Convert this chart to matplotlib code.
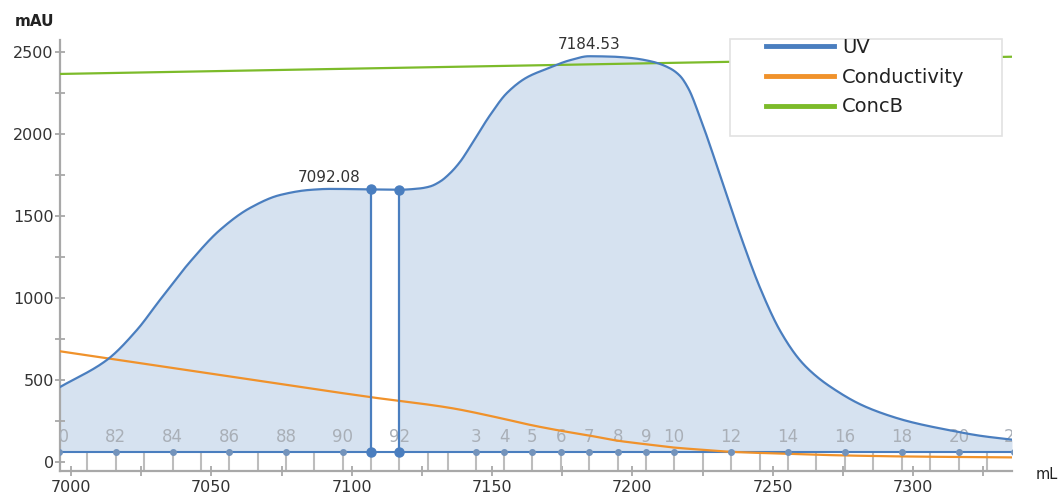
import numpy as np
import matplotlib
matplotlib.use("Agg")
import matplotlib.pyplot as plt
from matplotlib.lines import Line2D
from matplotlib.patches import Rectangle

plt.rcParams['font.family'] = ['DejaVu Sans']

# UV trace (mL, mAU)
uv_ml = [6996.1, 7012.8, 7023.5, 7031.7, 7042.4, 7053.1, 7063.8, 7074.5, 7085.1,
         7092.08, 7099.4, 7106.9, 7116.9, 7124.3, 7127.9, 7131.5, 7135.0, 7138.6,
         7142.1, 7149.3, 7155.3, 7162.4, 7169.9, 7177.8, 7184.53, 7192.0, 7199.1,
         7207.3, 7213.4, 7216.9, 7220.0, 7224.1, 7231.2, 7238.3, 7245.5, 7252.6,
         7259.7, 7265.0, 7270.4, 7281.1, 7289.3, 7298.9, 7313.1, 7323.8, 7335.2]
uv_mau = [457, 622, 805, 988, 1220, 1415, 1549, 1628, 1659,
          1665, 1664, 1662, 1660, 1668, 1680, 1710, 1760, 1830,
          1920, 2115, 2250, 2345, 2400, 2450, 2474, 2472, 2464,
          2440, 2400, 2355, 2275, 2100, 1750, 1390, 1060, 800,
          620, 530, 460, 352, 295, 245, 193, 160, 136]

# Conductivity trace (scaled to the mAU axis)
cond_ml = [6996.1, 7060.2, 7106.9, 7135.0, 7152.8, 7163.9, 7174.6, 7185.0, 7193.9,
           7204.8, 7214.8, 7225.2, 7235.1, 7255.4, 7275.0, 7300.0, 7335.2]
cond_val = [675, 512, 395, 330, 268, 225, 190, 160, 132,
            108, 88, 74, 62, 50, 40, 33, 28]

# Concentration B trace (scaled to the mAU axis)
concb_ml = [6996.1, 7234.7, 7335.2]
concb_val = [2366, 2440, 2471]

# Fractions
frac_ml = [6995.7, 7005.7, 7016.0, 7026.0, 7036.3, 7046.3, 7056.3, 7066.6, 7076.6,
           7086.6, 7096.9, 7106.9, 7116.9, 7127.2, 7134.3, 7144.3, 7154.3, 7164.2,
           7174.6, 7184.5, 7194.9, 7204.8, 7214.8, 7225.2, 7235.1, 7245.5, 7255.4,
           7265.4, 7275.7, 7285.7, 7296.0, 7306.0, 7316.3, 7326.3, 7336.0]
frac_label = ["80", "", "82", "", "84", "", "86", "", "88",
              "", "90", "", "92", "", "", "3", "4", "5",
              "6", "7", "8", "9", "10", "", "12", "", "14",
              "", "16", "", "18", "", "20", "", "22"]
selected = ["91", "92"]          # collected fraction, drawn as the open gap
selected_ml = [7106.9, 7116.9]
frac_base = 62

peaks_ml = [7092.08, 7184.53]

UV_C = '#4a7ebf'
FILL_C = '#d6e2f0'
COND_C = '#f0922b'
CONC_C = '#7cbb2a'
AXIS_C = '#a8a8a8'
TXT_C = '#333333'
FRAC_TXT = '#a9afb7'


def pchip(x, y, xn):
    """Shape-preserving cubic through the points, used for a smooth trace."""
    x = np.asarray(x, float)
    y = np.asarray(y, float)
    h = np.diff(x)
    dl = np.diff(y) / h
    d = np.zeros_like(y)
    for k in range(1, len(x) - 1):
        if dl[k - 1] * dl[k] > 0:
            w1 = 2 * h[k] + h[k - 1]
            w2 = h[k] + 2 * h[k - 1]
            d[k] = (w1 + w2) / (w1 / dl[k - 1] + w2 / dl[k])
    d[0], d[-1] = dl[0], dl[-1]
    xn = np.asarray(xn, float)
    i = np.clip(np.searchsorted(x, xn) - 1, 0, len(x) - 2)
    t = (xn - x[i]) / h[i]
    h00 = 2 * t**3 - 3 * t**2 + 1
    h10 = t**3 - 2 * t**2 + t
    h01 = -2 * t**3 + 3 * t**2
    h11 = t**3 - t**2
    return h00 * y[i] + h10 * h[i] * d[i] + h01 * y[i + 1] + h11 * h[i] * d[i + 1]


fig = plt.figure(figsize=(10.6, 4.94), dpi=100)
ax = fig.add_axes([60 / 1060, 1 - 471 / 494, (1012 - 60) / 1060, (471 - 40) / 494])

x_lo, x_hi = 6996.1, 7335.2
ax.set_xlim(x_lo, x_hi)
ax.set_ylim(-55, 2573)

xs = np.linspace(uv_ml[0], uv_ml[-1], 1200)
xs = np.union1d(xs, selected_ml)
ys = pchip(uv_ml, uv_mau, xs)
cx = np.linspace(cond_ml[0], cond_ml[-1], 600)
cy = pchip(cond_ml, cond_val, cx)

# shaded area under UV, leaving the collected fraction open
left = xs <= selected_ml[0]
right = xs >= selected_ml[1]
ax.fill_between(xs[left], frac_base, ys[left], color=FILL_C, lw=0, zorder=1)
ax.fill_between(xs[right], frac_base, ys[right], color=FILL_C, lw=0, zorder=1)

# fraction marks
ax.vlines(frac_ml, -55, frac_base, colors='#bdbdbd', lw=1.5, zorder=2)
ax.axhline(frac_base, color=UV_C, lw=1.5, zorder=4)
for xm, lab in zip(frac_ml, frac_label):
    if lab:
        ax.text(xm, 152, lab, ha='center', va='center', fontsize=12,
                color=FRAC_TXT, zorder=3, clip_on=True)
        ax.plot([xm], [frac_base], 'o', ms=4, color='#7393bb', zorder=5)

ax.plot(cx, cy, color=COND_C, lw=1.6, zorder=4)
ax.plot(concb_ml, concb_val, color=CONC_C, lw=1.6, zorder=4)
ax.plot(xs, ys, color=UV_C, lw=1.6, zorder=5)

for xm in selected_ml:
    top = float(pchip(uv_ml, uv_mau, [xm])[0])
    ax.plot([xm, xm], [frac_base, top], color=UV_C, lw=1.6, zorder=6)
    ax.plot([xm, xm], [frac_base, top], 'o', ms=6.5, color=UV_C, zorder=7)

for pk in peaks_ml:
    ax.annotate(f"{pk:.2f}", (pk, float(pchip(uv_ml, uv_mau, [pk])[0])),
                xytext=(0, 3), textcoords='offset points', ha='center',
                va='bottom', fontsize=11, color=TXT_C, zorder=8)

# axes styling
for s in ['top', 'right']:
    ax.spines[s].set_visible(False)
for s in ['left', 'bottom']:
    ax.spines[s].set_color(AXIS_C)
    ax.spines[s].set_linewidth(1.6)

ax.set_yticks([0, 500, 1000, 1500, 2000, 2500])
ax.set_yticks(np.arange(250, 2500, 500), minor=True)
ax.set_xticks([7000, 7050, 7100, 7150, 7200, 7250, 7300])
ax.set_xticks(np.arange(7025, 7330, 50), minor=True)
ax.tick_params(axis='both', which='major', direction='inout', length=7, width=1.3,
               color=AXIS_C, labelsize=11.5, labelcolor=TXT_C)
ax.tick_params(axis='y', which='major', pad=1)
ax.tick_params(axis='x', which='major', pad=3)
ax.tick_params(axis='both', which='minor', direction='inout', length=7, width=1.3,
               color=AXIS_C)

fig.text(35 / 1060, 1 - 22 / 494, 'mAU', ha='center', va='center',
         fontsize=11, color='#222222', fontweight='semibold')
fig.text(1058 / 1060, 1 - 474 / 494, 'mL', ha='right', va='center',
         fontsize=10.5, color='#222222')

# legend box
box = Rectangle((730 / 1060, 1 - 136 / 494), (1002 - 730) / 1060, (136 - 39) / 494,
                transform=fig.transFigure, facecolor='white', edgecolor='#e2e2e2',
                lw=1.2, zorder=10)
fig.patches.append(box)
handles = [Line2D([], [], color=UV_C, lw=3.5),
           Line2D([], [], color=COND_C, lw=3.5),
           Line2D([], [], color=CONC_C, lw=3.5)]
leg = fig.legend(handles, ['UV', 'Conductivity', 'ConcB'], loc='upper left',
                 bbox_to_anchor=(766 / 1060, 1 - 38 / 494), frameon=False,
                 fontsize=14, handlelength=3.5, handletextpad=0.4,
                 labelspacing=0.55, borderpad=0, borderaxespad=0)
leg.set_zorder(11)
for t in leg.get_texts():
    t.set_color('#222222')

fig.savefig('out.png', dpi=100)
